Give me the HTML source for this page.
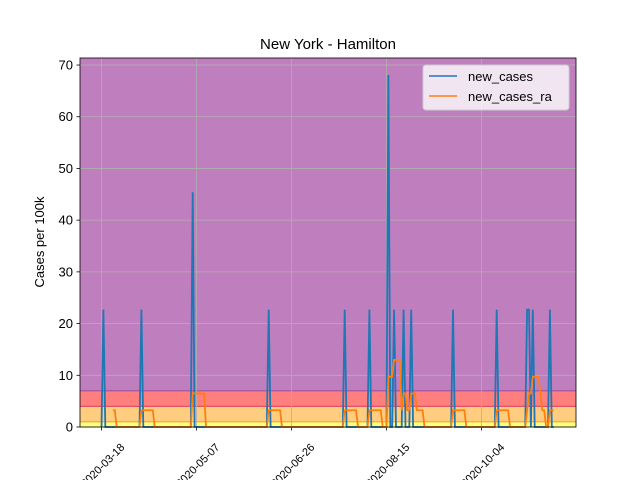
<!DOCTYPE html>
<html><head><meta charset="utf-8"><style>body{margin:0;background:#fff}svg{font-family:"Liberation Sans",sans-serif}</style></head>
<body>
<svg id="c" width="640" height="480"></svg>
<script>
const spikeDays=[1,21,48,88,128,141,151,154,159,163,185,208,224,225,227,236];
const spikeUnits=[1,1,2,1,1,1,3,1,1,1,1,1,1,1,1,1];
const unitValue=22.7;
const nDays=239;
const yTicks=[0,10,20,30,40,50,60,70];
const xTickDays=[0,50,100,150,200];
const xTickLabels=["2020-03-18","2020-05-07","2020-06-26","2020-08-15","2020-10-04"];
const bands=[[0,1,"#ffff80","#f5e040"],[1,4,"#ffcd80","#ffa030"],[4,7,"#ff7f7f","#e04060"],[7,71.36,"#bf7fbf","#a050a0"]];
const X0=80,X1=576,Y0=427,Y1=58;
const xs=d=>101.5+d*1.9;
const ys=v=>Y0-v*5.171;
const svg=document.getElementById('c');
const NS="http://www.w3.org/2000/svg";
function mk(t,a,p){const e=document.createElementNS(NS,t);for(const k in a)e.setAttribute(k,a[k]);(p||svg).appendChild(e);return e;}
const cases=new Array(nDays).fill(0);
spikeDays.forEach((d,i)=>cases[d]+=spikeUnits[i]*unitValue);
const ra=cases.map((v,i)=>i<6?null:cases.slice(i-6,i+1).reduce((a,b)=>a+b,0)/7);
bands.forEach(b=>{
 const r=mk('rect',{x:X0,y:ys(b[1]),width:X1-X0,height:ys(b[0])-ys(b[1]),fill:b[2]});
 
 
 if(b[0]>0){mk('line',{x1:X0,x2:X1,y1:ys(b[0]),y2:ys(b[0]),stroke:b[3],'stroke-width':1.2});}
});
yTicks.forEach(v=>{
 mk('line',{x1:X0,x2:X1,y1:ys(v),y2:ys(v),stroke:'#b0b0b0','stroke-width':0.8});
 mk('line',{x1:X0-3.5,x2:X0,y1:ys(v),y2:ys(v),stroke:'#000','stroke-width':0.8});
 const t=mk('text',{x:X0-7,y:ys(v)+4.5,'text-anchor':'end','font-size':13});
 t.textContent=v;
 
 
});
xTickDays.forEach((d,i)=>{
 const x=xs(d);
 mk('line',{x1:x,x2:x,y1:Y1,y2:Y0,stroke:'#b0b0b0','stroke-width':0.8});
 mk('line',{x1:x,x2:x,y1:Y0,y2:Y0+3.5,stroke:'#000','stroke-width':0.8});
 const cx=x+1,cy=Y0+38;
 const t=mk('text',{x:cx,y:cy+4,'text-anchor':'middle','font-size':11,transform:`rotate(-45 ${cx} ${cy})`});
 t.textContent=xTickLabels[i];
 
 
});
const p1=mk('path',{d:cases.map((v,i)=>(i?'L':'M')+xs(i)+','+ys(v)).join(''),fill:'none',stroke:'#1f77b4','stroke-width':1.8});


let dd='';ra.forEach((v,i)=>{if(v!==null)dd+=(dd?'L':'M')+xs(i)+','+ys(v);});
const p2=mk('path',{d:dd,fill:'none',stroke:'#ff7f0e','stroke-width':1.8});


mk('rect',{x:X0,y:Y1,width:X1-X0,height:Y0-Y1,fill:'none',stroke:'#000','stroke-width':0.8});
</script>
<svg width="640" height="480" style="position:absolute;left:0;top:0" font-family="Liberation Sans, sans-serif">
<text x="328" y="49" text-anchor="middle" font-size="15">New York - Hamilton</text>
<text transform="rotate(-90 44 242)" x="44" y="242" text-anchor="middle" font-size="13">Cases per 100k</text>
<g>
<rect x="423" y="65" width="146" height="45" rx="3" fill="#fff" fill-opacity="0.8" stroke="#ccc"/>
<line x1="429" x2="457" y1="76" y2="76" stroke="#1f77b4" stroke-width="1.5"/>
<text x="468" y="81" font-size="13">new_cases</text>
<line x1="429" x2="457" y1="96" y2="96" stroke="#ff7f0e" stroke-width="1.5"/>
<text x="468" y="101" font-size="13">new_cases_ra</text>
</g>
</svg>
</body></html>
